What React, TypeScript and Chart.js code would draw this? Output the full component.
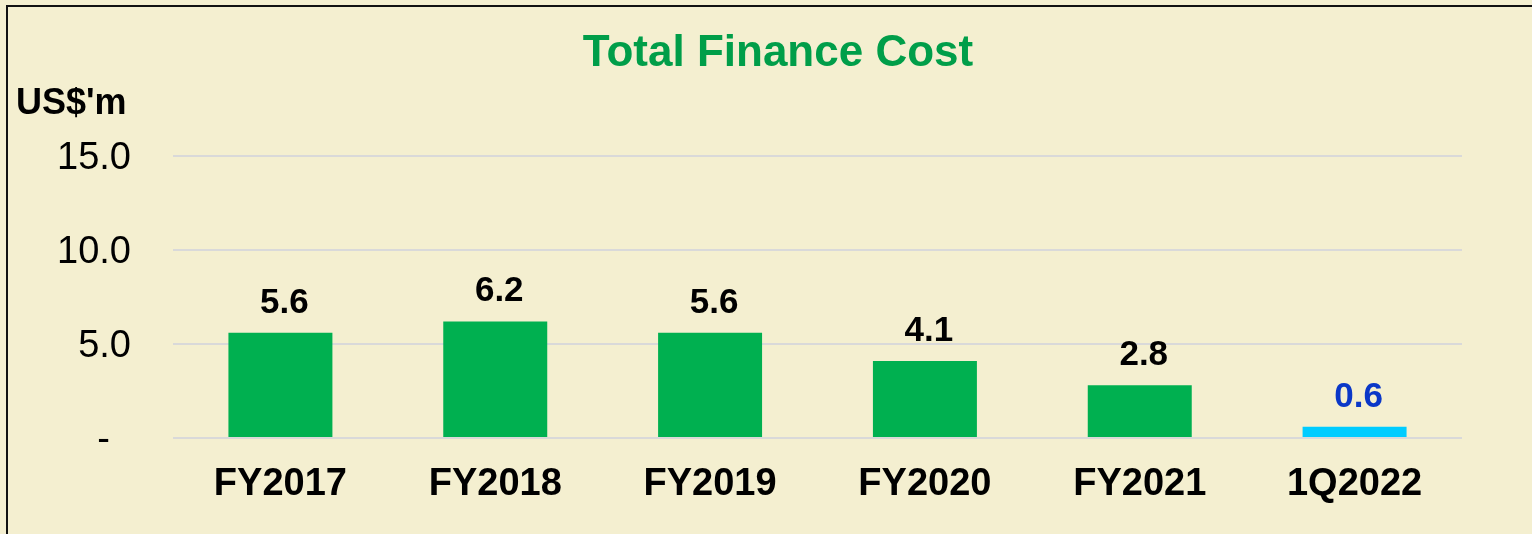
import React, { useEffect, useRef } from "react";
import { Chart, registerables } from "chart.js";

Chart.register(...registerables);

const categories = ["FY2017", "FY2018", "FY2019", "FY2020", "FY2021", "1Q2022"];
const financeCost = [5.6, 6.2, 5.6, 4.1, 2.8, 0.6];
const barColors = ["#00B050", "#00B050", "#00B050", "#00B050", "#00B050", "#00CCFF"];
const labelColors = ["#000000", "#000000", "#000000", "#000000", "#000000", "#0A37C8"];
const yTicks = [0, 5, 10, 15];
const chartTitle = "Total Finance Cost";
const unitLabel = "US$'m";

const FONT = "Arial, 'Liberation Sans', Helvetica, sans-serif";

export default function App() {
  const ref = useRef<HTMLCanvasElement | null>(null);

  useEffect(() => {
    const canvas = ref.current;
    if (!canvas) return;

    const overlay = {
      id: "overlay",
      afterDatasetsDraw(chart: any) {
        const ctx = chart.ctx;
        const meta = chart.getDatasetMeta(0);
        ctx.save();
        ctx.font = `bold 35px ${FONT}`;
        ctx.textAlign = "center";
        ctx.textBaseline = "alphabetic";
        meta.data.forEach((bar: any, i: number) => {
          ctx.fillStyle = labelColors[i];
          ctx.fillText(financeCost[i].toFixed(1), bar.x + 4, bar.y - 20);
        });
        ctx.restore();
      },
      afterDraw(chart: any) {
        const ctx = chart.ctx;
        ctx.save();
        ctx.font = `bold 44px ${FONT}`;
        ctx.fillStyle = "#009E49";
        ctx.textAlign = "center";
        ctx.textBaseline = "alphabetic";
        ctx.fillText(chartTitle, 778, 66);
        ctx.font = `bold 36px ${FONT}`;
        ctx.fillStyle = "#000000";
        ctx.textAlign = "left";
        ctx.fillText(unitLabel, 16, 114);
        ctx.restore();
      },
    };

    const chart = new Chart(canvas, {
      type: "bar",
      data: {
        labels: categories,
        datasets: [
          {
            data: financeCost,
            backgroundColor: barColors,
            borderWidth: 0,
            barPercentage: 0.484,
            categoryPercentage: 1,
          },
        ],
      },
      options: {
        responsive: false,
        animation: false,
        events: [],
        layout: { padding: { left: 0, top: 156, right: 70, bottom: 0 } },
        plugins: {
          legend: { display: false },
          title: { display: false },
          tooltip: { enabled: false },
        },
        scales: {
          x: {
            grid: { display: false, drawTicks: false },
            border: { display: false },
            ticks: {
              color: "#000000",
              font: { family: FONT, size: 38, weight: "bold" },
              padding: 24,
              maxRotation: 0,
              autoSkip: false,
            },
            afterFit(scale: any) {
              scale.height = 96;
            },
          },
          y: {
            min: 0,
            max: 15,
            afterBuildTicks(scale: any) {
              scale.ticks = yTicks.map((v) => ({ value: v }));
            },
            grid: { color: "#D9D9D9", lineWidth: 2, drawTicks: false },
            border: { display: false },
            ticks: {
              color: "#000000",
              font: { family: FONT, size: 38 },
              padding: 42,
              labelOffset: 3,
              callback: (v: any) => (Number(v) === 0 ? "-  " : Number(v).toFixed(1)),
            },
            afterFit(scale: any) {
              scale.width = 173;
            },
          },
        },
      },
      plugins: [overlay],
    });

    return () => chart.destroy();
  }, []);

  return (
    <div
      style={{
        position: "fixed",
        left: 0,
        top: 0,
        width: 1532,
        height: 534,
        background: "#F4EFD0",
        overflow: "hidden",
      }}
    >
      <canvas ref={ref} width={1532} height={534} style={{ position: "absolute", left: 0, top: 0, width: 1532, height: 534 }} />
      <div
        style={{
          position: "absolute",
          left: 6,
          top: 5,
          width: 2000,
          height: 2000,
          borderTop: "2px solid #111111",
          borderLeft: "2px solid #111111",
          pointerEvents: "none",
        }}
      />
    </div>
  );
}
